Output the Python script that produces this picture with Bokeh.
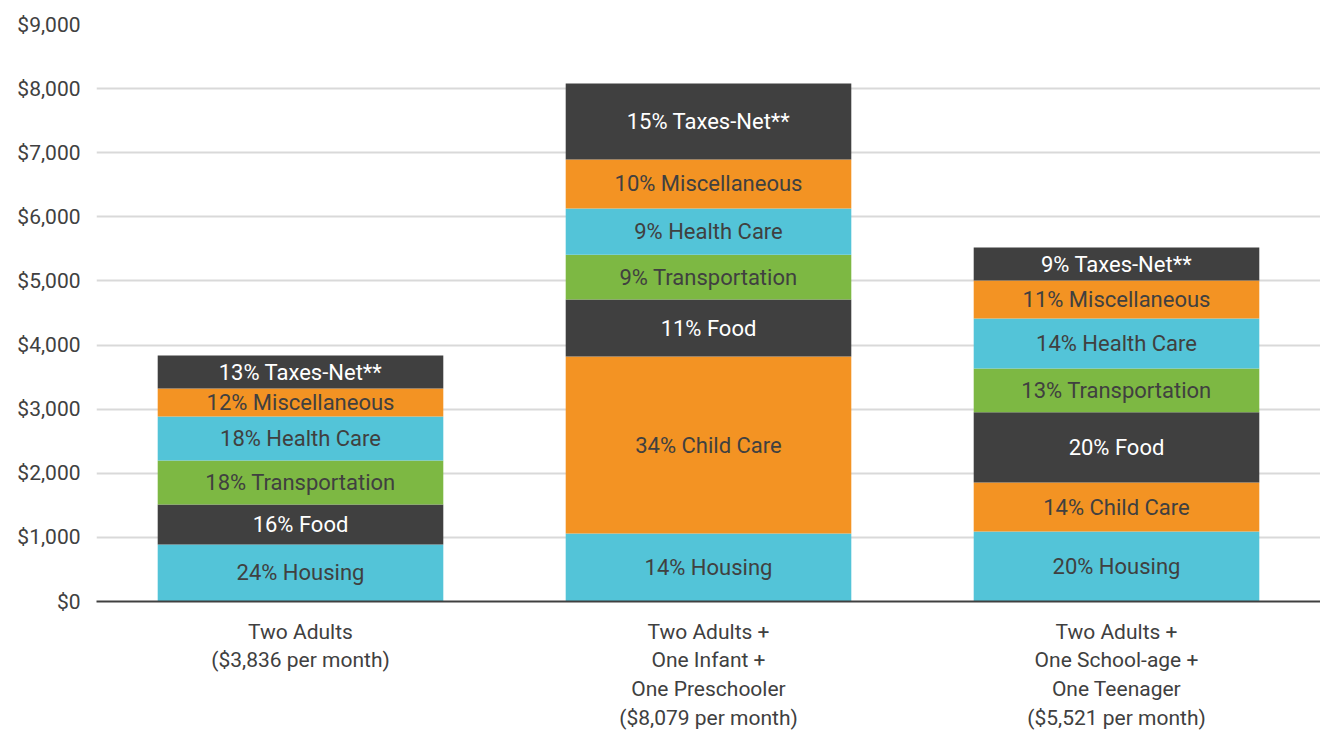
import numpy as np
from bokeh.plotting import figure
from bokeh.models import ColumnDataSource, LabelSet, NumeralTickFormatter, FixedTicker, Range1d
from bokeh.core.properties import value
from bokeh.embed import file_html
from bokeh.resources import INLINE

families = ["Two Adults\n($3,836 per month)",
            "Two Adults +\nOne Infant +\nOne Preschooler\n($8,079 per month)",
            "Two Adults +\nOne School-age +\nOne Teenager\n($5,521 per month)"]
categories = ["Housing", "Child Care", "Food", "Transportation", "Health Care", "Miscellaneous", "Taxes-Net**"]
housing = [890, 1060, 1090]
child_care = [0, 2760, 765]
food = [623, 890, 1095]
transportation = [687, 700, 685]
health_care = [686, 720, 780]
miscellaneous = [437, 765, 590]
taxes = [513, 1184, 516]
pct_housing = ["24%", "14%", "20%"]
pct_child = ["", "34%", "14%"]
pct_food = ["16%", "11%", "20%"]
pct_transport = ["18%", "9%", "13%"]
pct_health = ["18%", "9%", "14%"]
pct_misc = ["12%", "10%", "11%"]
pct_taxes = ["13%", "15%", "9%"]

series = [housing, child_care, food, transportation, health_care, miscellaneous, taxes]
pcts = [pct_housing, pct_child, pct_food, pct_transport, pct_health, pct_misc, pct_taxes]
colors = ["#53C4D8", "#F39323", "#404040", "#7DB843", "#53C4D8", "#F39323", "#404040"]
text_colors = ["#404040", "#404040", "#ffffff", "#404040", "#404040", "#404040", "#ffffff"]

FONT = "Roboto"

p = figure(x_range=families, frame_width=1224, frame_height=577, output_backend="svg",
           toolbar_location=None, min_border_left=96, min_border_right=0,
           min_border_top=24, min_border_bottom=118)
p.y_range = Range1d(0, 9000)

data = {"fam": families}
for c, s in zip(categories, series):
    data[c] = s
src = ColumnDataSource(data)
p.vbar_stack(categories, x="fam", width=0.70, color=colors, source=src, line_color=None)

bottoms = np.zeros(3)
for c, s, pc, tc in zip(categories, series, pcts, text_colors):
    s = np.array(s, dtype=float)
    mids = bottoms + s / 2
    texts = [(f"{pp} {c}" if v > 0 else "") for pp, v in zip(pc, s)]
    lsrc = ColumnDataSource(dict(x=families, y=mids, t=texts))
    p.add_layout(LabelSet(x="x", y="y", text="t", source=lsrc, text_align="center",
                          text_baseline="middle", text_color=tc, text_font=value(FONT),
                          text_font_size=value("22px"), text_font_style="normal"))
    bottoms = bottoms + s

p.yaxis.ticker = FixedTicker(ticks=list(range(0, 9001, 1000)))
p.yaxis.formatter = NumeralTickFormatter(format="$0,0")
p.yaxis.axis_line_color = None
p.yaxis.major_tick_line_color = None
p.yaxis.minor_tick_line_color = None
p.yaxis.major_label_text_font = FONT
p.yaxis.major_label_text_font_size = "21px"
p.yaxis.major_label_text_font_style = "normal"
p.yaxis.major_label_text_color = "#404040"
p.yaxis.major_label_standoff = 10

p.xaxis.axis_line_color = "#404040"
p.xaxis.axis_line_width = 2
p.xaxis.major_tick_line_color = None
p.xaxis.minor_tick_line_color = None
p.xaxis.major_label_text_font = FONT
p.xaxis.major_label_text_font_size = "21px"
p.xaxis.major_label_text_font_style = "normal"
p.xaxis.major_label_text_color = "#404040"
p.xaxis.major_label_standoff = 12
p.xaxis.major_label_text_line_height = 1.2

p.xgrid.grid_line_color = None
p.ygrid.grid_line_color = "#D9D9D9"
p.ygrid.grid_line_width = 2
p.outline_line_color = None
p.x_range.range_padding = 0

open("out.html", "w").write(file_html(p, INLINE))
